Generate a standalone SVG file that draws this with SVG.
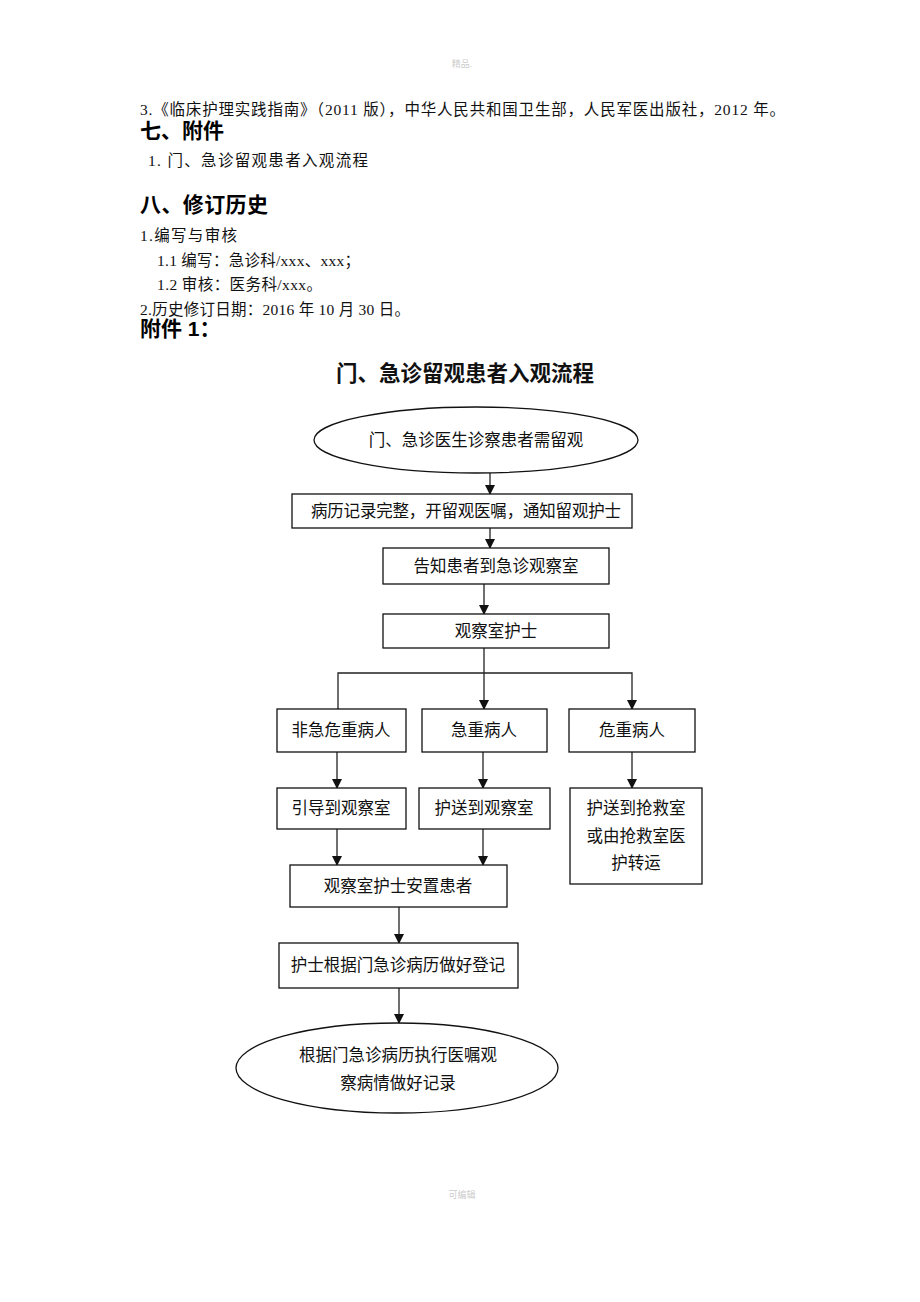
<svg xmlns="http://www.w3.org/2000/svg" width="920" height="1302" viewBox="0 0 920 1302">
<style>
.doc{font-family:"Liberation Serif","Noto Sans CJK SC",serif;font-size:15.5px;fill:#111}
.h{font-family:"Liberation Sans","Noto Sans CJK SC",sans-serif;font-size:21px;font-weight:bold;fill:#000}
.t{font-family:"Liberation Sans","Noto Sans CJK SC",sans-serif;font-size:16.5px;fill:#111;text-anchor:middle}
.title{font-family:"Liberation Sans","Noto Sans CJK SC",sans-serif;font-size:21.5px;font-weight:bold;fill:#111;text-anchor:middle}
.box{fill:#fff;stroke:#111;stroke-width:1.3}
.ln{fill:none;stroke:#222;stroke-width:1.3}
.wm{font-family:"Liberation Sans","Noto Sans CJK SC",sans-serif;font-size:9px;fill:#ccc;text-anchor:middle}
</style>
<defs>
<marker id="ah" markerWidth="10" markerHeight="10" refX="9" refY="5" orient="auto" markerUnits="userSpaceOnUse">
<path d="M0,0 L10,5 L0,10 Z" fill="#111"/>
</marker>
</defs>
<rect width="920" height="1302" fill="#fff"/>
<text class="wm" x="462" y="67">精品.</text>
<text class="wm" x="462" y="1198">可编辑</text>

<g id="document-text">
<text class="doc" x="140" y="115" textLength="645" lengthAdjust="spacing">3.《临床护理实践指南》（2011 版），中华人民共和国卫生部，人民军医出版社，2012 年。</text>
<text class="h" x="140" y="138">七、附件</text>
<text class="doc" x="148" y="166" textLength="220" lengthAdjust="spacing">1. 门、急诊留观患者入观流程</text>
<text class="h" x="140" y="212" textLength="128" lengthAdjust="spacing">八、修订历史</text>
<text class="doc" x="140" y="241" textLength="97" lengthAdjust="spacing">1.编写与审核</text>
<text class="doc" x="157" y="266" textLength="203" lengthAdjust="spacing">1.1 编写：急诊科/xxx、xxx；</text>
<text class="doc" x="157" y="290" textLength="165" lengthAdjust="spacing">1.2 审核：医务科/xxx。</text>
<text class="doc" x="140" y="315" textLength="270" lengthAdjust="spacing">2.历史修订日期：2016 年 10 月 30 日。</text>
<text class="h" x="140" y="336">附件 1：</text>
<text class="title" x="465" y="381">门、急诊留观患者入观流程</text>
</g>

<g id="connectors">
<line class="ln" x1="490" y1="473" x2="490" y2="494" marker-end="url(#ah)"/>
<line class="ln" x1="490" y1="528" x2="490" y2="548" marker-end="url(#ah)"/>
<line class="ln" x1="484" y1="584" x2="484" y2="614" marker-end="url(#ah)"/>
<line class="ln" x1="484" y1="648" x2="484" y2="709" marker-end="url(#ah)"/>
<polyline class="ln" points="338,709 338,673 632,673 632,709" marker-start="url(#ah)" marker-end="url(#ah)"/>
<line class="ln" x1="337" y1="752" x2="337" y2="788" marker-end="url(#ah)"/>
<line class="ln" x1="483" y1="752" x2="483" y2="788" marker-end="url(#ah)"/>
<line class="ln" x1="632" y1="752" x2="632" y2="788" marker-end="url(#ah)"/>
<line class="ln" x1="337" y1="829" x2="337" y2="865" marker-end="url(#ah)"/>
<line class="ln" x1="483" y1="829" x2="483" y2="865" marker-end="url(#ah)"/>
<line class="ln" x1="399" y1="907" x2="399" y2="943" marker-end="url(#ah)"/>
<line class="ln" x1="399" y1="988" x2="399" y2="1023" marker-end="url(#ah)"/>
</g>

<g id="n-start">
<ellipse class="box" cx="476" cy="440" rx="162" ry="33"/>
<text class="t" x="476" y="446">门、急诊医生诊察患者需留观</text>
</g>
<g id="n-record">
<rect class="box" x="292" y="494" width="340" height="34"/>
<text class="t" x="466" y="517" textLength="310" lengthAdjust="spacing">病历记录完整，开留观医嘱，通知留观护士</text>
</g>
<g id="n-inform">
<rect class="box" x="383" y="548" width="226" height="36"/>
<text class="t" x="496" y="572">告知患者到急诊观察室</text>
</g>
<g id="n-nurse">
<rect class="box" x="383" y="614" width="226" height="34"/>
<text class="t" x="496" y="637">观察室护士</text>
</g>
<g id="n-nonurgent">
<rect class="box" x="277" y="709" width="129" height="43"/>
<text class="t" x="341" y="736">非急危重病人</text>
</g>
<g id="n-urgent">
<rect class="box" x="422" y="709" width="125" height="43"/>
<text class="t" x="484" y="736">急重病人</text>
</g>
<g id="n-critical">
<rect class="box" x="569" y="709" width="126" height="43"/>
<text class="t" x="632" y="736">危重病人</text>
</g>
<g id="n-guide">
<rect class="box" x="277" y="788" width="129" height="41"/>
<text class="t" x="341" y="814">引导到观察室</text>
</g>
<g id="n-escort">
<rect class="box" x="419" y="788" width="131" height="41"/>
<text class="t" x="484" y="814">护送到观察室</text>
</g>
<g id="n-rescue">
<rect class="box" x="570" y="788" width="132" height="96"/>
<text class="t" x="636" y="814">护送到抢救室</text>
<text class="t" x="636" y="842">或由抢救室医</text>
<text class="t" x="636" y="869">护转运</text>
</g>
<g id="n-settle">
<rect class="box" x="290" y="865" width="217" height="42"/>
<text class="t" x="398" y="892">观察室护士安置患者</text>
</g>
<g id="n-register">
<rect class="box" x="279" y="943" width="239" height="45"/>
<text class="t" x="398" y="971">护士根据门急诊病历做好登记</text>
</g>
<g id="n-end">
<ellipse class="box" cx="397" cy="1068" rx="161" ry="45"/>
<text class="t" x="398" y="1061">根据门急诊病历执行医嘱观</text>
<text class="t" x="398" y="1089">察病情做好记录</text>
</g>
</svg>
